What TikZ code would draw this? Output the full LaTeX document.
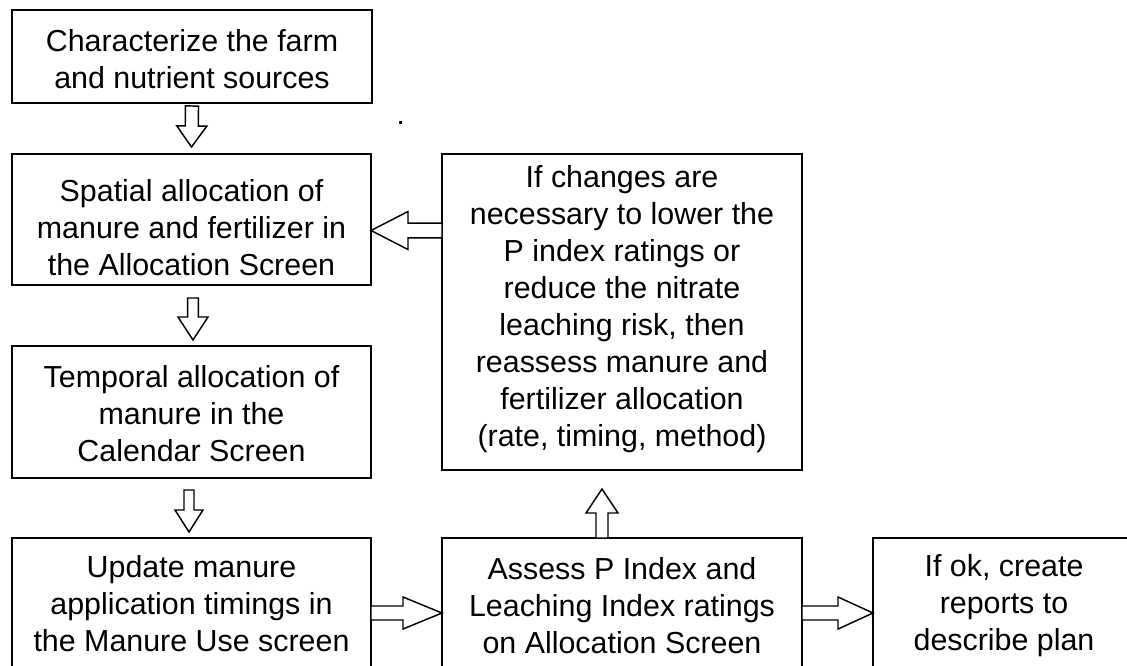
\documentclass[tikz,border=0pt]{standalone}
\usepackage{fontspec}
\setmainfont{Liberation Sans}
\usetikzlibrary{calc,fit}
\tikzset{
  box/.style={draw, line width=1.5pt, inner sep=0pt, outer sep=0pt},
  txt/.style={align=center, inner sep=0pt, font=\fontsize{22.8}{27.75}\selectfont},
  blk/.style={draw, line width=1.1pt, fill=white, line join=miter},
}
\newcommand\blockarr[5]{% start, end, half shaft, half head, head length
  \coordinate (hb) at ($(#2)!#5!(#1)$);
  \draw[blk] ($(#1)!#3!90:(#2)$) -- ($(hb)!#3!-90:(#1)$) -- ($(hb)!#4!-90:(#1)$) -- (#2)
    -- ($(hb)!#4!90:(#1)$) -- ($(hb)!#3!90:(#1)$) -- ($(#1)!#3!-90:(#2)$) -- cycle;}
\begin{document}
\begin{tikzpicture}[x=0.75pt, y=-0.75pt]
\useasboundingbox (0,0) rectangle (1127,665);
% boxes
\node[box, fit={(12,10) (372,103)}] (b1) {};
\node[box, fit={(12,154) (371,285)}] (b2) {};
\node[box, fit={(12,346) (371,478)}] (b3) {};
\node[box, fit={(12,538) (371,670)}] (b4) {};
\node[box, fit={(442,538) (802,670)}] (b5) {};
\node[box, fit={(873,538) (1135,670)}] (b6) {};
\node[box, fit={(442,154) (802,470)}] (b7) {};
% texts
\node[txt] (t1) at (192,59) {Characterize the farm\\and nutrient sources};
\node[txt] (t2) at (191.5,228) {Spatial allocation of\\manure and fertilizer in\\the Allocation Screen};
\node[txt] (t3) at (191.5,414) {Temporal allocation of\\manure in the\\Calendar Screen};
\node[txt] (t4) at (191.5,604) {Update manure\\application timings in\\the Manure Use screen};
\node[txt] (t5) at (622,606) {Assess P Index and\\Leaching Index ratings\\on Allocation Screen};
\node[txt] (t6) at (1004,606) {If ok, create\\reports to\\describe plan};
\node[txt] (t7) at (622,309) {If changes are\\necessary to lower the\\P index ratings or\\reduce the nitrate\\leaching risk, then\\reassess manure and\\fertilizer allocation\\(rate, timing, method)};
% stray dot
\fill (398.5,120.5) rectangle (401.5,123.5);
% connector end points
\coordinate (a1s) at ($(b1.south)+(0,3)$);
\coordinate (a1e) at ($(b2.north)+(0,-7)$);
\coordinate (a2s) at ($(b2.south)+(1.5,13)$);
\coordinate (a2e) at ($(b3.north)+(1.5,-6)$);
\coordinate (a3s) at ($(b3.south)+(-2.5,12)$);
\coordinate (a3e) at ($(b4.north)+(-2.5,-6)$);
\coordinate (a4s) at ($(b4.east)+(0,9)$);
\coordinate (a4e) at ($(b5.west)+(0,9)$);
\coordinate (a5s) at ($(b5.east)+(0,9)$);
\coordinate (a5e) at ($(b6.west)+(0,9)$);
\coordinate (a6s) at ($(b5.north)+(-20,0)$);
\coordinate (a6e) at ($(b7.south)+(-20,19)$);
\coordinate (a7s) at ($(b7.west)+(0,-81.5)$);
\coordinate (a7e) at ($(b2.east)+(0,11)$);
% block arrows
\blockarr{a1s}{a1e}{4.9pt}{11.25pt}{15.75pt}
\blockarr{a2s}{a2e}{4.1pt}{11.25pt}{17.25pt}
\blockarr{a3s}{a3e}{3.75pt}{10.5pt}{16.5pt}
\blockarr{a4s}{a4e}{5.25pt}{12pt}{29.25pt}
\blockarr{a5s}{a5e}{5.25pt}{12pt}{26.25pt}
\blockarr{a6s}{a6e}{4.5pt}{12pt}{18pt}
\blockarr{a7s}{a7e}{5.6pt}{14.25pt}{27.75pt}
\end{tikzpicture}
\end{document}
